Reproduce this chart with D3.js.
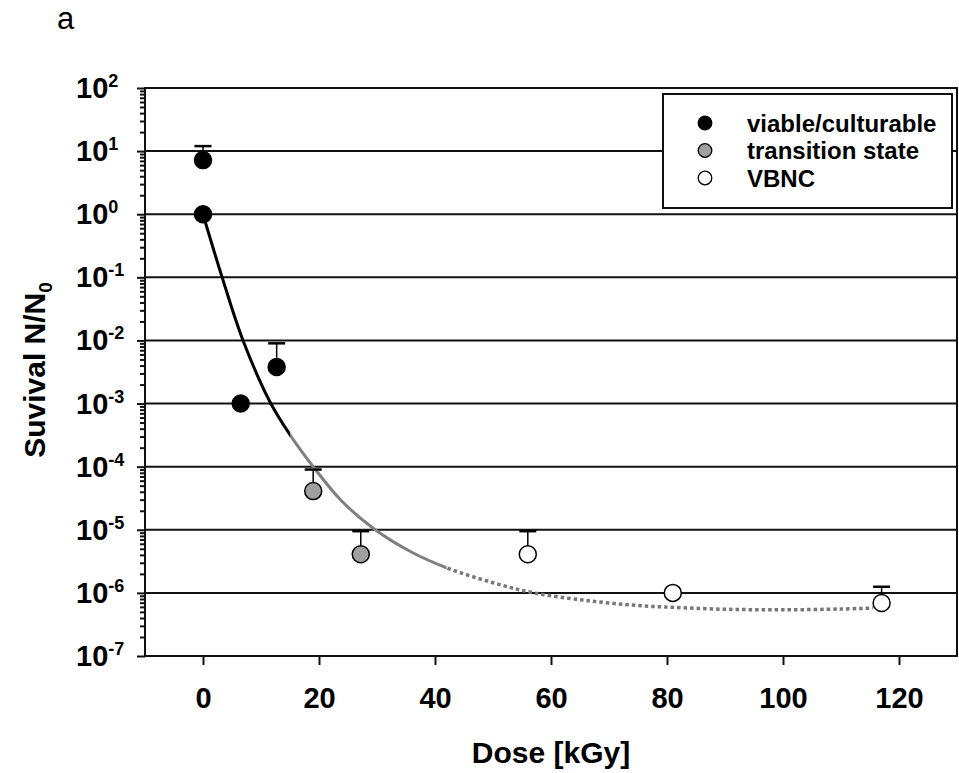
<!DOCTYPE html>
<meta charset="utf-8">
<style>
  body { margin: 0; background: #fff; }
  svg text { font-family: Arial, "Liberation Sans", sans-serif; fill: #000; }
</style>
<svg id="chart" width="959" height="773"></svg>
<script src="https://d3js.org/d3.v7.min.js"></script>
<script>
// measured points (dose in kGy, survival N/N0, upper error bar)
const viableDose = [0, 0, 6.5, 12.7];
const viableSurv = [7.2, 1, 1e-3, 3.8e-3];
const viableErr  = [12, null, null, 9e-3];

const transDose = [19, 27.2];
const transSurv = [4.1e-5, 4.1e-6];
const transErr  = [9e-5, 9.5e-6];

const vbncDose = [56, 81, 117];
const vbncSurv = [4.1e-6, 1e-6, 6.9e-7];
const vbncErr  = [9.5e-6, null, 1.25e-6];

// fitted curve
const fitDose = [0, 3.3, 6.9, 11.7, 15, 19, 24, 29.7, 36, 42, 50, 57, 66, 75, 81, 90, 100, 110, 115.5];
const fitSurv = [1, 0.1, 0.01, 1e-3, 3.2e-4, 1e-4, 2.8e-5, 1e-5, 4.4e-6, 2.5e-6, 1.45e-6, 1e-6, 7.6e-7, 6.3e-7, 5.9e-7, 5.5e-7, 5.4e-7, 5.55e-7, 5.75e-7];
const fitBreaks = [15, 42];   // black -> grey -> dotted grey

const xTicks = [0, 20, 40, 60, 80, 100, 120];
const yExponents = [2, 1, 0, -1, -2, -3, -4, -5, -6, -7];
const legendLabels = ["viable/culturable", "transition state", "VBNC"];
const legendFills = ["#000", "#a0a0a0", "#fff"];

const mLeft = 145, mRight = 957, mTop = 88, mBottom = 656;

const svg = d3.select("#chart");

const x = d3.scaleLinear().domain([-10, 130]).range([mLeft, mRight]);
const y = d3.scaleLog().domain([1e-7, 1e2]).range([mBottom, mTop]);

// grid lines at each decade
svg.append("g")
    .selectAll("line")
    .data(yExponents.slice(1, -1))
    .join("line")
    .attr("x1", mLeft).attr("x2", mRight)
    .attr("y1", d => y(Math.pow(10, d))).attr("y2", d => y(Math.pow(10, d)))
    .attr("stroke", "#111").attr("stroke-width", 2);

// y axis, major and minor ticks
const majors = yExponents.map(e => Math.pow(10, e));
const minors = [];
yExponents.slice(1).forEach(e => {
  for (let m = 2; m <= 9; m++) minors.push(m * Math.pow(10, e));
});

const yMajor = svg.append("g").attr("transform", `translate(${mLeft},0)`)
    .call(d3.axisLeft(y).tickValues(majors).tickSize(8).tickSizeOuter(0).tickFormat(""));
const yMinor = svg.append("g").attr("transform", `translate(${mLeft},0)`)
    .call(d3.axisLeft(y).tickValues(minors).tickSize(5).tickSizeOuter(0).tickFormat(""));
[yMajor, yMinor].forEach(g => {
  g.select(".domain").remove();
  g.selectAll("line").attr("stroke", "#111").attr("stroke-width", 2);
});

// y tick labels as 10^n
const yLab = svg.append("g").selectAll("text")
    .data(yExponents)
    .join("text")
    .attr("x", mLeft - 69)
    .attr("y", d => y(Math.pow(10, d)) + 10)
    .attr("font-size", 29).attr("font-weight", "bold");
yLab.append("tspan").text("10");
yLab.append("tspan").attr("dy", -11).attr("font-size", 18).text(d => d < 0 ? "-" + (-d) : d);

// x axis
const xAxis = svg.append("g").attr("transform", `translate(0,${mBottom})`)
    .call(d3.axisBottom(x).tickValues(xTicks).tickSize(9).tickSizeOuter(0).tickPadding(22));
xAxis.select(".domain").remove();
xAxis.selectAll("line").attr("stroke", "#111").attr("stroke-width", 2);
xAxis.selectAll("text").attr("font-size", 29).attr("font-weight", "bold")
    .attr("font-family", "Arial, 'Liberation Sans', sans-serif").attr("fill", "#000");

// frame
svg.append("rect")
    .attr("x", mLeft).attr("y", mTop)
    .attr("width", mRight - mLeft).attr("height", mBottom - mTop)
    .attr("fill", "none").attr("stroke", "#111").attr("stroke-width", 2);

// fitted curve, split into three styles using clip paths
const fitData = fitDose.map((d, i) => [d, fitSurv[i]]);
const line = d3.line().x(d => x(d[0])).y(d => y(d[1])).curve(d3.curveCatmullRom.alpha(0.5));
const cuts = [fitDose[0], fitBreaks[0], fitBreaks[1], fitDose[fitDose.length - 1]];
const segStyles = [
  {color: "#000", dash: null, w: 3},
  {color: "#7f7f7f", dash: null, w: 3},
  {color: "#777", dash: "3.5,3", w: 3.5}
];
const defs = svg.append("defs");
segStyles.forEach((s, i) => {
  defs.append("clipPath").attr("id", "seg" + i)
    .append("rect")
    .attr("x", x(cuts[i]) - (i === 0 ? 5 : 0))
    .attr("y", 0)
    .attr("width", x(cuts[i + 1]) - x(cuts[i]) + (i === 0 ? 5 : 0) + (i === 2 ? 5 : 0))
    .attr("height", 773);
  svg.append("path")
    .datum(fitData)
    .attr("clip-path", `url(#seg${i})`)
    .attr("d", line)
    .attr("fill", "none")
    .attr("stroke", s.color)
    .attr("stroke-width", s.w)
    .attr("stroke-dasharray", s.dash);
});

// data series with error bars
const series = [
  {dose: viableDose, surv: viableSurv, err: viableErr, fill: legendFills[0]},
  {dose: transDose, surv: transSurv, err: transErr, fill: legendFills[1]},
  {dose: vbncDose, surv: vbncSurv, err: vbncErr, fill: legendFills[2]}
];

series.forEach(s => {
  const pts = s.dose.map((d, i) => ({d: d, v: s.surv[i], e: s.err[i]}));
  const withErr = pts.filter(p => p.e != null);
  const g = svg.append("g");
  g.selectAll(".bar").data(withErr).join("line")
    .attr("x1", p => x(p.d)).attr("x2", p => x(p.d))
    .attr("y1", p => y(p.v)).attr("y2", p => y(p.e))
    .attr("stroke", "#000").attr("stroke-width", 1.5);
  g.selectAll(".cap").data(withErr).join("line")
    .attr("x1", p => x(p.d) - 8.5).attr("x2", p => x(p.d) + 8.5)
    .attr("y1", p => y(p.e)).attr("y2", p => y(p.e))
    .attr("stroke", "#000").attr("stroke-width", 2.5);
  g.selectAll("circle").data(pts).join("circle")
    .attr("cx", p => x(p.d)).attr("cy", p => y(p.v))
    .attr("r", 8.5)
    .attr("fill", s.fill)
    .attr("stroke", "#000").attr("stroke-width", 1.5);
});

// legend
const lg = svg.append("g");
lg.append("rect")
    .attr("x", 663).attr("y", 94).attr("width", 289).attr("height", 114)
    .attr("fill", "#fff").attr("stroke", "#111").attr("stroke-width", 2);
legendLabels.forEach((lab, i) => {
  const cy = 123 + i * 27.5;
  lg.append("circle").attr("cx", 705).attr("cy", cy).attr("r", 6.8)
    .attr("fill", legendFills[i]).attr("stroke", "#000").attr("stroke-width", 1.3);
  lg.append("text").attr("x", 747).attr("y", cy + 8.5)
    .attr("font-size", 24).attr("font-weight", "bold").text(lab);
});

// axis titles
svg.append("text")
    .attr("x", 551).attr("y", 763)
    .attr("text-anchor", "middle")
    .attr("font-size", 30).attr("font-weight", "bold")
    .text("Dose [kGy]");

const yt = svg.append("text")
    .attr("transform", "translate(45,370) rotate(-90)")
    .attr("text-anchor", "middle")
    .attr("font-size", 30).attr("font-weight", "bold");
yt.append("tspan").text("Suvival N/N");
yt.append("tspan").attr("dy", 7).attr("font-size", 19).text("0");

// panel letter
svg.append("text").attr("x", 57).attr("y", 29).attr("font-size", 31).text("a");
</script>
